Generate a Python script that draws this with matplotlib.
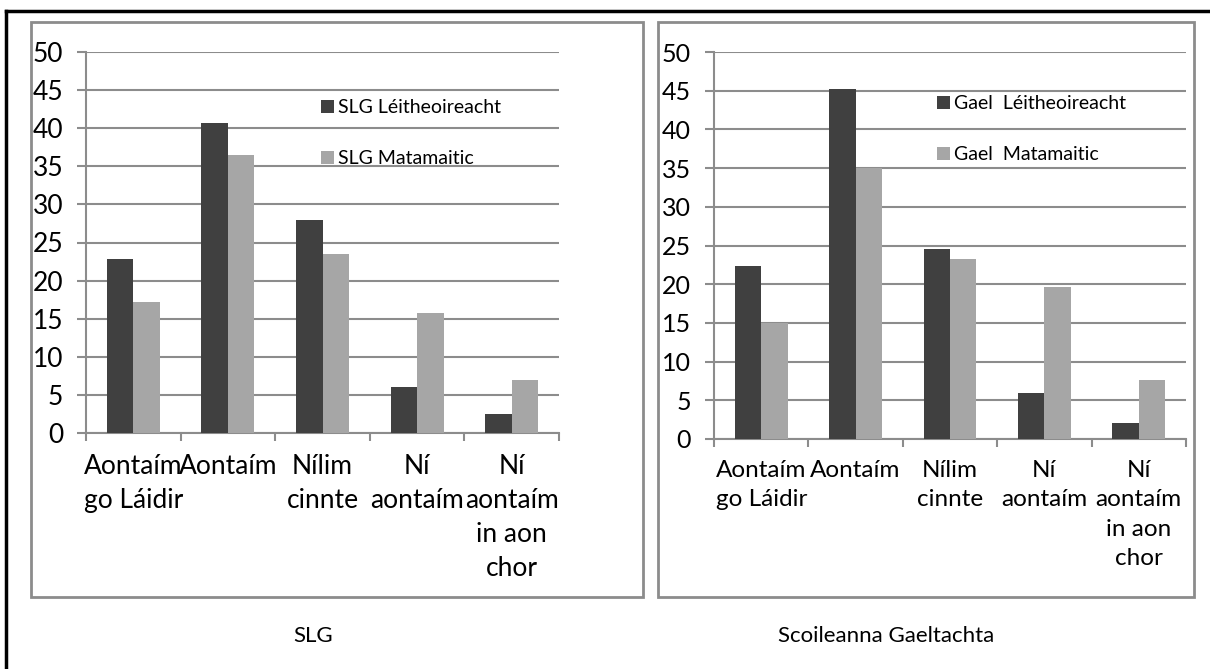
import numpy as np
import matplotlib
matplotlib.use("Agg")
import matplotlib.pyplot as plt
from matplotlib.patches import Rectangle
from matplotlib.lines import Line2D

plt.rcParams['font.family'] = ['Lato', 'DejaVu Sans']

# categories and values
categories = ["Aontaím\ngo Láidir", "Aontaím", "Nílim\ncinnte", "Ní\naontaím", "Ní\naontaím\nin aon\nchor"]
slg_read = [22.8, 40.7, 28.0, 6.0, 2.5]
slg_math = [17.2, 36.5, 23.5, 15.8, 7.0]
gael_read = [22.4, 45.2, 24.5, 5.9, 2.1]
gael_math = [15.0, 35.0, 23.2, 19.7, 7.6]
yticks = [0, 5, 10, 15, 20, 25, 30, 35, 40, 45, 50]

W, H = 1210, 669
dark = '#404040'
light = '#a6a6a6'
grid_c = '#8c8c8c'

fig = plt.figure(figsize=(W / 100, H / 100), dpi=100)


def px(x0, y0, x1, y1):
    # pixel box (top-left origin) -> figure fraction rect
    return [x0 / W, 1 - y1 / H, (x1 - x0) / W, (y1 - y0) / H]


# outer black frame (only left and top visible in the reference)
fig.add_artist(Line2D([6 / W, 6 / W], [0, 1 - 11 / H], color='black', lw=2.5, transform=fig.transFigure))
fig.add_artist(Line2D([6 / W, 1], [1 - 11 / H, 1 - 11 / H], color='black', lw=2.5, transform=fig.transFigure))

# gray panel borders
for x0, x1 in [(31, 643), (658, 1194)]:
    fig.add_artist(Rectangle((x0 / W, 1 - 597 / H), (x1 - x0) / W, (597 - 22) / H,
                             fill=False, edgecolor=grid_c, lw=2, transform=fig.transFigure))


def draw_panel(rect, read, math, labels, leg_xy, tick_fs, cat_fs, cat_ls, cat_pad):
    ax = fig.add_axes(rect)
    x = np.arange(len(categories))
    bw = 0.28
    b1 = ax.bar(x - bw / 2, read, bw, color=dark, zorder=3)
    b2 = ax.bar(x + bw / 2, math, bw, color=light, zorder=3)
    ax.set_xlim(-0.5, len(categories) - 0.5)
    ax.set_ylim(0, 50)
    ax.set_yticks(yticks)
    ax.tick_params(axis='y', length=6.5, width=1.5, color=grid_c, labelsize=tick_fs, pad=10)
    ax.yaxis.grid(True, color=grid_c, lw=1.5, zorder=0)
    ax.set_axisbelow(True)
    ax.set_xticks(x)
    ax.set_xticklabels(categories, fontsize=cat_fs, linespacing=cat_ls, va='top')
    ax.tick_params(axis='x', which='major', length=0, pad=cat_pad)
    ax.set_xticks(np.arange(-0.5, len(categories)), minor=True)
    ax.tick_params(axis='x', which='minor', length=6, width=1.5, color=grid_c)
    for s in ['top', 'right']:
        ax.spines[s].set_visible(False)
    for s in ['left', 'bottom']:
        ax.spines[s].set_color(grid_c)
        ax.spines[s].set_linewidth(1.5)
    lx, ly = leg_xy
    ax.legend([b1, b2], labels, loc='upper left',
              bbox_to_anchor=(lx / W, 1 - ly / H), bbox_transform=fig.transFigure,
              frameon=False, fontsize=14, handlelength=0.65, handleheight=0.65,
              handletextpad=0.25, labelspacing=1.75, borderpad=0, borderaxespad=0)
    return ax


draw_panel(px(86, 52, 559, 433), slg_read, slg_math,
           ["SLG Léitheoireacht", "SLG Matamaitic"], (321, 99), 19, 19, 1.45, 15)
draw_panel(px(714, 52, 1186, 439), gael_read, gael_math,
           ["Gael  Léitheoireacht", "Gael  Matamaitic"], (937, 95), 18, 17.5, 1.5, 15)

fig.text(313 / W, 1 - 636 / H, "SLG", ha='center', va='center', fontsize=16)
fig.text(886 / W, 1 - 636 / H, "Scoileanna Gaeltachta", ha='center', va='center', fontsize=16)

fig.savefig("out.png", dpi=100)
